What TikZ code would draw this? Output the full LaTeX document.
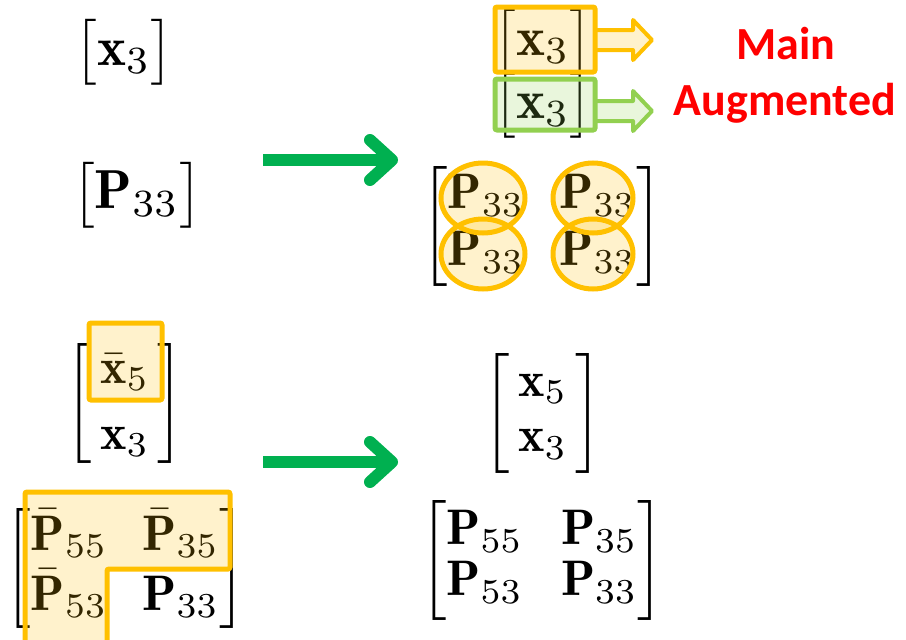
\documentclass[tikz,border=0pt]{standalone}
\usepackage{amsmath}
\usepackage{fontspec}
\newfontfamily\labelfont{Carlito}
\usetikzlibrary{arrows.meta}
\definecolor{hlorange}{HTML}{FFC000}
\definecolor{hlgreen}{HTML}{92D050}
\definecolor{arrgreen}{HTML}{00B050}
\tikzset{
  mat/.style={scale=5, inner sep=0pt},
  single/.style={scale=5.5, inner sep=0pt},
  hl/.style={draw=#1, fill=#1, fill opacity=0.2, line width=5pt, rounded corners=2pt},
  goarrow/.style={draw=arrgreen, line width=12pt, -{Straight Barb[length=22pt,width=40pt,round]}},
  tag/.style={font=\labelfont\bfseries\fontsize{46}{52}\selectfont, text=red}
}
\begin{document}
\begin{tikzpicture}[x=1pt,y=-1pt]
  \useasboundingbox (0,0) rectangle (906,640);
  % left column
  \node[single] (xa) at (124,52) {$\begin{bmatrix}\mathbf{x}_3\end{bmatrix}$};
  \node[single] (pa) at (137,195) {$\begin{bmatrix}\mathbf{P}_{33}\end{bmatrix}$};
  \node[mat] (xb) at (125,403) {\renewcommand\arraystretch{1.1}$\begin{bmatrix}\,\bar{\mathbf{x}}_5\,\\ \,\mathbf{x}_3\,\end{bmatrix}$};
  \node[mat] (pb) at (125,568) {\setlength\arraycolsep{3.5pt}\renewcommand\arraystretch{1.0}$\begin{bmatrix}\bar{\mathbf{P}}_{55} & \bar{\mathbf{P}}_{35}\\ \bar{\mathbf{P}}_{53} & \mathbf{P}_{33}\end{bmatrix}$};
  % right column
  \node[single] (xm) at (543,42) {$\begin{bmatrix}\mathbf{x}_3\end{bmatrix}$};
  \node[single] (xg) at (543,105) {$\begin{bmatrix}\mathbf{x}_3\end{bmatrix}$};
  \node[mat] (pc) at (542,226) {\setlength\arraycolsep{3.5pt}\renewcommand\arraystretch{0.95}$\begin{bmatrix}\mathbf{P}_{33} & \mathbf{P}_{33}\\ \mathbf{P}_{33} & \mathbf{P}_{33}\end{bmatrix}$};
  \node[mat] (xc) at (543,413) {\renewcommand\arraystretch{0.92}$\begin{bmatrix}\,\mathbf{x}_5\,\\ \,\mathbf{x}_3\,\end{bmatrix}$};
  \node[mat] (pd) at (542,560) {\setlength\arraycolsep{3.8pt}\renewcommand\arraystretch{0.85}$\begin{bmatrix}\mathbf{P}_{55} & \mathbf{P}_{35}\\ \mathbf{P}_{53} & \mathbf{P}_{33}\end{bmatrix}$};
  \node[tag] (main) at (786,44) {Main};
  \node[tag] (aug) at (785,103) {Augmented};
  % green arrows
  \coordinate (g1) at (263,160); \coordinate (g2) at (398,160);
  \coordinate (g3) at (263,462); \coordinate (g4) at (398,462);
  \draw[goarrow] (g1) -- (g2);
  \draw[goarrow] (g3) -- (g4);
  % highlights
  \draw[hl=hlorange] (495,7) rectangle (595,72);
  \draw[hl=hlgreen] (495,79) rectangle (595,130);
  \foreach \c/\y in {hlorange/40,hlgreen/111}
    \draw[draw=\c, fill=\c, fill opacity=0.2, line width=4pt, line join=round]
      (597,\y-10) -- (633,\y-10) -- (633,\y-20) -- (652,\y) -- (633,\y+20) -- (633,\y+10) -- (597,\y+10);
  \foreach \xx/\rx in {483/42,593/40}
    \foreach \yy in {198,254}
      \draw[hl=hlorange] (\xx,\yy) ellipse ({\rx} and 35);
  \draw[hl=hlorange] (89,323) rectangle (162,400);
  \draw[hl=hlorange] (25,492) -- (230,492) -- (230,569) -- (107,569) -- (107,645) -- (25,645) -- cycle;
\end{tikzpicture}
\end{document}
